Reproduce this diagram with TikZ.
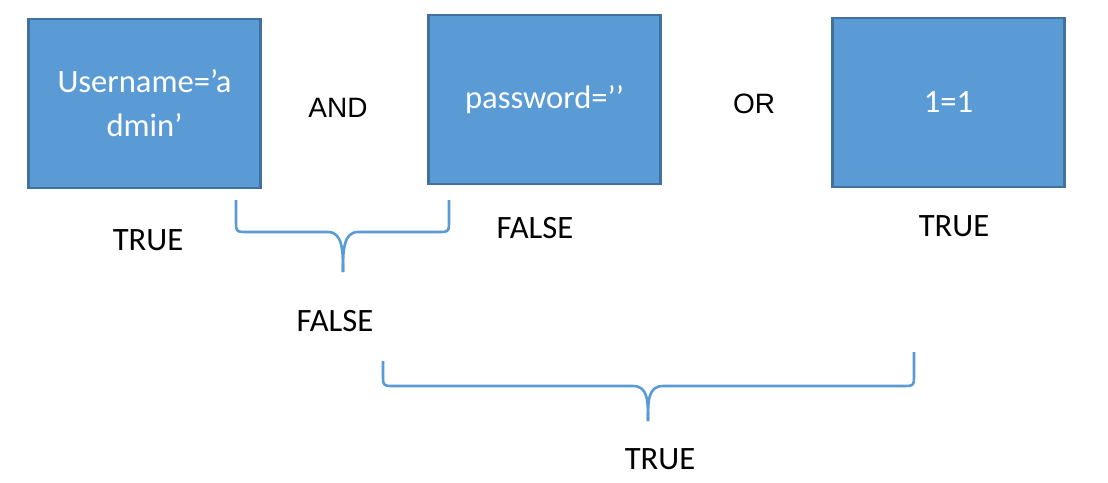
\documentclass[tikz,border=0pt]{standalone}
\usepackage{fontspec}
\setmainfont{Carlito}
\newfontfamily\arialfont{Liberation Sans}
\usetikzlibrary{positioning}

\begin{document}
\begin{tikzpicture}[
  x=0.5pt, y=-0.5pt,
  cond/.style={rectangle,draw=condline,fill=condfill,line width=1.25pt, minimum width=116pt,minimum height=84.5pt,align=center,text=white,font=\fontsize{16.3}{22}\selectfont},
  val/.style={font=\fontsize{16.3}{20}\selectfont, inner sep=0pt},
  op/.style={font=\arialfont\fontsize{14}{17}\selectfont, inner sep=0pt},
  brc/.style={draw=condfill, line width=1.3pt}
]
  \definecolor{condfill}{HTML}{5B9BD5}
  \definecolor{condline}{HTML}{41719C}
  \useasboundingbox (0,0) rectangle (1108,482);
  % boxes
  \node[cond] (user) at (144.5,103.5) {Username=’a\\dmin’};
  \node[cond] (pass) at (544.5,99.5)  {\raisebox{-1.5pt}{password=’’}};
  \node[cond] (one)  at (948.5,102.5) {1=1};
  % operators and values
  \node[op]  (andop) at (338,108) {AND};
  \node[op]  (orop)  at (754,104) {OR};
  \node[val] (tuser) at (148,240) {TRUE};
  \node[val] (tpass) at (535,228) {FALSE};
  \node[val] (tone)  at (954,226) {TRUE};
  \node[val] (tand)  at (335,321) {FALSE};
  \node[val] (tall)  at (660,459) {TRUE};
  % braces
  \coordinate (b1l) at (236,200);
  \coordinate (b1r) at (449,200);
  \coordinate (b1t) at (343,272);
  \coordinate (b2l) at (383,361);
  \coordinate (b2r) at (914,352);
  \coordinate (b2t) at (648,421);
  \draw[brc] (b1l) -- ++(0,20) .. controls +(0,12) and +(-12,0) .. ++(12,12) -- ++(80,0) .. controls +(15,0) and +(0,-20) .. (b1t);
  \draw[brc] (b1r) -- ++(0,20) .. controls +(0,12) and +(12,0) .. ++(-12,12) -- ++(-79,0) .. controls +(-15,0) and +(0,-20) .. (b1t);
  \draw[brc] (b2l) -- ++(0,13) .. controls +(0,12) and +(-12,0) .. ++(12,12) -- ++(238,0) .. controls +(15,0) and +(0,-20) .. (b2t);
  \draw[brc] (b2r) -- ++(0,22) .. controls +(0,12) and +(12,0) .. ++(-12,12) -- ++(-239,0) .. controls +(-15,0) and +(0,-20) .. (b2t);
\end{tikzpicture}
\end{document}
